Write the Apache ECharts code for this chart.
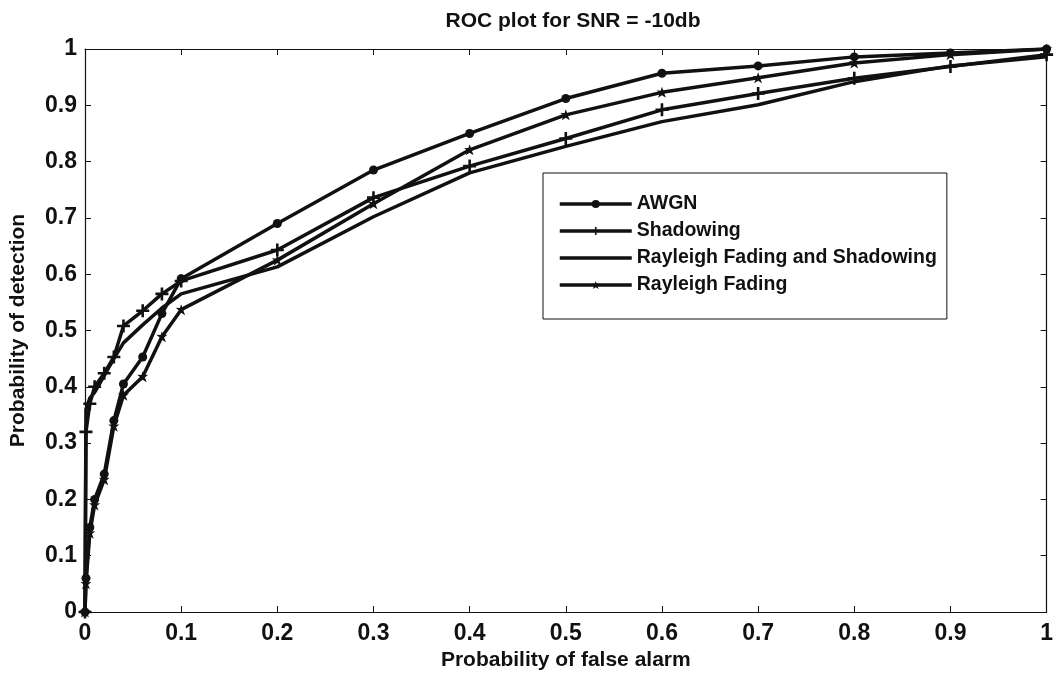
<!DOCTYPE html>
<html>
<head>
<meta charset="utf-8">
<script src="https://cdn.jsdelivr.net/npm/echarts@6/dist/echarts.min.js"></script>
<style>
html,body{margin:0;padding:0;background:#fff;}
#chart{width:1056px;height:676px;}
</style>
</head>
<body>
<div id="chart"></div>
<script>
// Probability of false alarm (x)
const pfa = [0, 0.001, 0.005, 0.01, 0.02, 0.03, 0.04, 0.06, 0.08, 0.1, 0.2, 0.3, 0.4, 0.5, 0.6, 0.7, 0.8, 0.9, 1.0];
// Probability of detection per channel
const awgn      = [0, 0.06, 0.15, 0.20, 0.245, 0.34, 0.405, 0.453, 0.53, 0.592, 0.69, 0.785, 0.85, 0.912, 0.957, 0.97, 0.986, 0.993, 1.0];
const shadowing = [0, 0.32, 0.37, 0.40, 0.424, 0.453, 0.508, 0.535, 0.565, 0.588, 0.643, 0.736, 0.792, 0.841, 0.892, 0.921, 0.948, 0.969, 0.99];
const rayShadow = [0, 0.36, 0.38, 0.39, 0.42, 0.45, 0.478, 0.51, 0.54, 0.565, 0.613, 0.702, 0.78, 0.827, 0.871, 0.901, 0.942, 0.97, 0.986];
const rayleigh  = [0, 0.05, 0.14, 0.19, 0.235, 0.33, 0.385, 0.418, 0.489, 0.537, 0.625, 0.725, 0.821, 0.883, 0.923, 0.949, 0.975, 0.99, 1.0];
const seriesNames = ['AWGN', 'Shadowing', 'Rayleigh Fading and Shadowing', 'Rayleigh Fading'];
const xTicks = [0, 0.1, 0.2, 0.3, 0.4, 0.5, 0.6, 0.7, 0.8, 0.9, 1];
const yTicks = [0, 0.1, 0.2, 0.3, 0.4, 0.5, 0.6, 0.7, 0.8, 0.9, 1];

const pair = ys => pfa.map((x, i) => [x, ys[i]]);
const fmt = v => (Math.abs(v - Math.round(v)) < 1e-9 ? String(Math.round(v)) : String(+v.toFixed(1)));

const PLUS = 'path://M4,0h2v4h4v2h-4v4h-2v-4h-4v-2h4z';
const STAR = 'path://M5,0L6.2,3.3L10,3.2L7,5.6L8.6,9.6L5,7.4L1.4,9.6L3,5.6L0,3.2L3.8,3.3Z';
const INK = '#111';
const FONT = '"Liberation Sans", Arial, sans-serif';

const chart = echarts.init(document.getElementById('chart'), null, {renderer: 'canvas'});
const axisCommon = {
  type: 'value', min: 0, max: 1, interval: 0.1,
  axisLine: {show: true, onZero: false, lineStyle: {color: INK, width: 1.2}},
  axisTick: {show: true, inside: true, length: 6, lineStyle: {color: INK}},
  splitLine: {show: false}
};
chart.setOption({
  backgroundColor: '#fff',
  animation: false,
  title: {
    text: 'ROC plot for SNR = -10db', left: 568, top: 6, textAlign: 'center',
    textStyle: {fontFamily: FONT, fontSize: 21, fontWeight: 'bold', color: INK}
  },
  grid: {left: 85, right: 3, top: 49, bottom: 64, containLabel: false},
  legend: {
    orient: 'vertical', left: 543, top: 173,
    backgroundColor: '#fff', borderColor: INK, borderWidth: 1,
    padding: [21, 10, 24, 15], itemWidth: 72, itemHeight: 10, itemGap: 7,
    lineStyle: {width: 3.5, color: INK},
    textStyle: {fontFamily: FONT, fontSize: 19.5, fontWeight: 'bold', color: INK, lineHeight: 20},
    data: seriesNames
  },
  xAxis: [
    Object.assign({}, axisCommon, {
      position: 'bottom',
      name: 'Probability of false alarm', nameLocation: 'middle', nameGap: 36,
      nameTextStyle: {fontFamily: FONT, fontSize: 21, fontWeight: 'bold', color: INK},
      axisLabel: {fontFamily: FONT, fontSize: 23, fontWeight: 'bold', color: INK, margin: 10, formatter: fmt}
    }),
    Object.assign({}, axisCommon, {position: 'top', axisLabel: {show: false}})
  ],
  yAxis: [
    Object.assign({}, axisCommon, {
      position: 'left',
      name: 'Probability of detection', nameLocation: 'middle', nameGap: 56,
      nameTextStyle: {fontFamily: FONT, fontSize: 21, fontWeight: 'bold', color: INK},
      axisLabel: {fontFamily: FONT, fontSize: 23, fontWeight: 'bold', color: INK, margin: 8, formatter: fmt}
    }),
    Object.assign({}, axisCommon, {position: 'right', axisLabel: {show: false}})
  ],
  series: [
    {name: seriesNames[0], type: 'line', data: pair(awgn), symbol: 'circle', symbolSize: 9,
     lineStyle: {color: INK, width: 3.5}, itemStyle: {color: INK}},
    {name: seriesNames[1], type: 'line', data: pair(shadowing), symbol: PLUS, symbolSize: 13,
     lineStyle: {color: INK, width: 3.5}, itemStyle: {color: INK}},
    {name: seriesNames[2], type: 'line', data: pair(rayShadow), symbol: 'none', showSymbol: false,
     lineStyle: {color: INK, width: 3.5}, itemStyle: {color: INK, opacity: 0}},
    {name: seriesNames[3], type: 'line', data: pair(rayleigh), symbol: STAR, symbolSize: 11,
     lineStyle: {color: INK, width: 3.5}, itemStyle: {color: INK}}
  ]
});
</script>
</body>
</html>
